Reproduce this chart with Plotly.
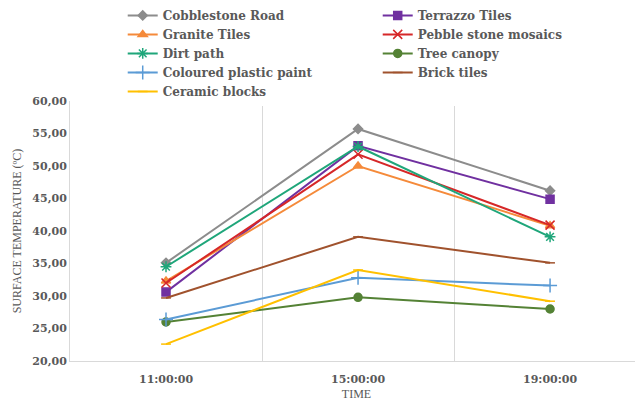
import plotly.graph_objects as go

times = ["11:00:00", "15:00:00", "19:00:00"]
series_names = ["Cobblestone Road", "Terrazzo Tiles", "Granite Tiles", "Pebble stone mosaics",
                "Dirt path", "Tree canopy", "Coloured plastic paint", "Brick tiles", "Ceramic blocks"]
cobblestone = [35.1, 55.7, 46.2]
terrazzo = [30.6, 53.1, 44.9]
granite = [32.3, 50.0, 40.8]
pebble = [32.0, 51.8, 40.9]
dirt = [34.5, 53.0, 39.1]
tree = [26.0, 29.8, 28.0]
coloured = [26.4, 32.8, 31.6]
brick = [29.7, 39.1, 35.1]
ceramic = [22.6, 34.0, 29.2]
y_ticks = [20, 25, 30, 35, 40, 45, 50, 55, 60]
y_tick_labels = ["20,00", "25,00", "30,00", "35,00", "40,00", "45,00", "50,00", "55,00", "60,00"]

values = [cobblestone, terrazzo, granite, pebble, dirt, tree, coloured, brick, ceramic]
colors = ["#8C8C8C", "#7030A0", "#F58A3A", "#D62728", "#1FA67A", "#548235", "#5B9BD5", "#A0522D", "#FFC000"]
symbols = ["diamond", "square", "triangle-up", "x-thin-open", "asterisk-open", "circle",
           "cross-thin-open", "line-ew-open", "line-ew-open"]
sizes = [7, 8, 8, 9, 9, 8, 10, 7, 7]

SERIF = "Liberation Serif"
BSERIF = "DejaVu Serif"
GRAY = "#595959"

fig = go.Figure()
for name, vals, c, s, sz in zip(series_names, values, colors, symbols, sizes):
    fig.add_trace(go.Scatter(
        x=times, y=vals, name=name, mode="lines+markers",
        line=dict(color=c, width=2),
        marker=dict(symbol=s, size=sz, color=c, line=dict(color=c, width=1.5)),
    ))

fig.update_layout(
    width=635, height=393,
    margin=dict(l=62, r=0, t=93, b=40, autoexpand=False),
    paper_bgcolor="white", plot_bgcolor="white",
    font=dict(family=SERIF, color=GRAY),
    showlegend=True,
    legend=dict(
        orientation="h", x=0.092, y=1.385, xanchor="left", yanchor="top",
        xref="paper", yref="paper",
        entrywidth=210, entrywidthmode="pixels",
        font=dict(family=BSERIF, size=12, color=GRAY, weight="bold"),
        tracegroupgap=0, itemwidth=30,
    ),
    xaxis=dict(
        type="category", range=[-0.5, 2.484],
        showgrid=True, gridcolor="#D9D9D9", gridwidth=1, tickson="boundaries",
        showline=True, linecolor="#D9D9D9", linewidth=1,
        ticks="", ticklabelstandoff=8,
        tickfont=dict(family=BSERIF, size=11, color=GRAY, weight="bold"),
        title=dict(text="TIME", font=dict(family=SERIF, size=12, color=GRAY), standoff=4),
    ),
    yaxis=dict(
        range=[20, 60], tickvals=y_ticks, ticktext=y_tick_labels,
        showgrid=False, zeroline=False,
        showline=True, linecolor="#D9D9D9", linewidth=1,
        ticks="", tickfont=dict(family=BSERIF, size=11, color=GRAY, weight="bold"),
        title=dict(text="SURFACE TEMPERATURE (ºC)", font=dict(family=SERIF, size=12, color=GRAY), standoff=8),
    ),
)

fig.write_html("out.html")
